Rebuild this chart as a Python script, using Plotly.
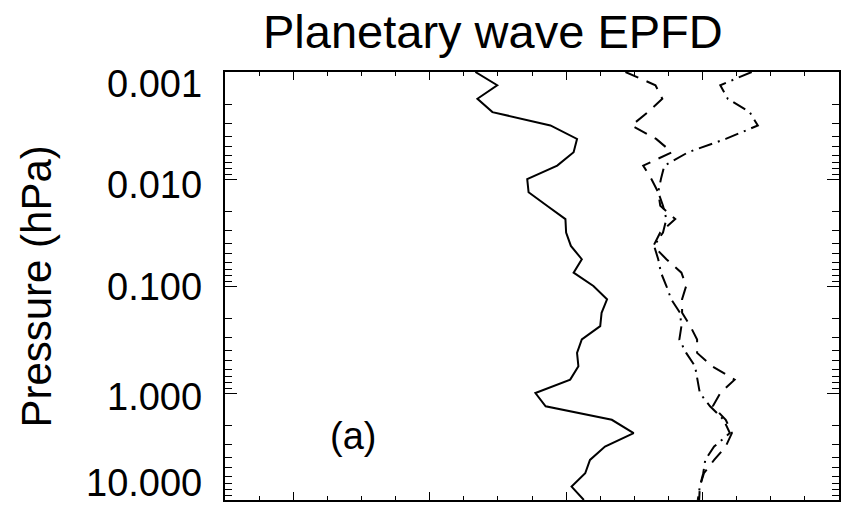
import math
import plotly.graph_objects as go

# Pressure levels (hPa), 1/8-decade grid from 0.001 to 10
pressure = [0.001, 0.00133, 0.00178, 0.00237, 0.00316, 0.00422, 0.00562, 0.0075,
            0.01, 0.0133, 0.0178, 0.0237, 0.0316, 0.0422, 0.0562, 0.075,
            0.1, 0.133, 0.178, 0.237, 0.316, 0.422, 0.562, 0.75,
            1.0, 1.33, 1.78, 2.37, 3.16, 4.22, 5.62, 7.5, 10.0]

solid = [2.67, 2.99, 2.70, 2.92, 3.77, 4.16, 4.11, 3.87,
         3.43, 3.45, 3.72, 3.99, 4.00, 4.07, 4.23, 4.11,
         4.40, 4.60, 4.52, 4.50, 4.23, 4.16, 4.18, 4.06,
         3.55, 3.70, 4.67, 4.99, 4.57, 4.35, 4.28, 4.08, 4.26]

dashed = [4.87, 5.31, 5.41, 5.20, 4.96, 5.32, 5.55, 5.13,
          5.25, 5.35, 5.38, 5.60, 5.38, 5.28, 5.47, 5.69,
          5.76, 5.70, 5.70, 5.82, 5.92, 5.92, 6.14, 6.47,
          6.26, 6.15, 6.34, 6.43, 6.34, 6.17, 6.02, 5.96, 5.95]

dashdot = [6.72, 6.26, 6.37, 6.69, 6.81, 6.34, 5.79, 5.44,
           5.39, 5.35, 5.42, 5.47, 5.42, 5.29, 5.35, 5.39,
           5.47, 5.54, 5.67, 5.69, 5.66, 5.76, 5.89, 5.93,
           5.96, 6.11, 6.31, 6.40, 6.17, 6.04, 6.01, 5.96, 5.93]

ytick_vals = [0.001, 0.01, 0.1, 1.0, 10.0]
ytick_text = ["0.001", "0.010", "0.100", "1.000", "10.000"]
ytick_shift = [-12, -6, -1, -4, 17]

title_text = "Planetary wave EPFD"
ylabel_text = "Pressure (hPa)"
panel_label = "(a)"

FONT = "Liberation Sans, Arial, Helvetica, sans-serif"

W, H = 842, 506
PL, PR, PT, PB = 225, 1, 72, 6
plot_w = W - PL - PR
plot_h = H - PT - PB


def px_to_paper(px, py):
    return (px - PL) / plot_w, ((H - py) - PB) / plot_h


fig = go.Figure()
fig.add_trace(go.Scatter(x=solid, y=pressure, mode="lines",
                         line=dict(color="black", width=2, dash="solid"), showlegend=False))
fig.add_trace(go.Scatter(x=dashed, y=pressure, mode="lines",
                         line=dict(color="black", width=2, dash="14px,9px"), showlegend=False))
fig.add_trace(go.Scatter(x=dashdot, y=pressure, mode="lines",
                         line=dict(color="black", width=2, dash="14px,6px,2px,6px"), showlegend=False))

fig.update_layout(
    width=W, height=H,
    margin=dict(l=PL, r=PR, t=PT, b=PB),
    paper_bgcolor="white", plot_bgcolor="white",
    font=dict(family=FONT, color="black"),
    showlegend=False,
)

fig.update_xaxes(
    range=[-1, 8], showgrid=False, zeroline=False,
    showline=True, linecolor="black", linewidth=1.5, mirror="ticks",
    ticks="inside", tick0=0, dtick=2, ticklen=8, tickwidth=1.2, tickcolor="black",
    minor=dict(ticks="inside", dtick=0.5, ticklen=4, tickwidth=1.2, tickcolor="black"),
    showticklabels=False,
)
fig.update_yaxes(
    type="log", range=[1, -3], showgrid=False, zeroline=False,
    showline=True, linecolor="black", linewidth=1.5, mirror="ticks",
    ticks="inside", dtick=1, ticklen=12, tickwidth=1.2, tickcolor="black",
    minor=dict(ticks="inside", dtick="D1", ticklen=7, tickwidth=1.2, tickcolor="black"),
    showticklabels=False,
)

annotations = []
for v, t, s in zip(ytick_vals, ytick_text, ytick_shift):
    annotations.append(dict(x=0, xref="paper", y=math.log10(v), yref="y",
                            text=t, showarrow=False, xanchor="right", yanchor="middle",
                            xshift=-21, yshift=s, font=dict(size=38, family=FONT, color="black")))

lx, ly = px_to_paper(35, 287)
annotations.append(dict(x=lx, xref="paper", y=ly, yref="paper",
                        text=ylabel_text, showarrow=False, textangle=-90,
                        xanchor="center", yanchor="middle",
                        font=dict(size=42, family=FONT, color="black")))
annotations.append(dict(x=0.88, xref="x", y=0.40, yref="y", text=panel_label,
                        showarrow=False, xanchor="center", yanchor="middle",
                        font=dict(size=38, family=FONT, color="black")))
tx, ty = px_to_paper(494, 31)
annotations.append(dict(x=tx, xref="paper", y=ty, yref="paper",
                        text=title_text, showarrow=False, xanchor="center", yanchor="middle",
                        font=dict(size=47, family=FONT, color="black")))

fig.update_layout(annotations=annotations)
fig.write_html("out.html")
